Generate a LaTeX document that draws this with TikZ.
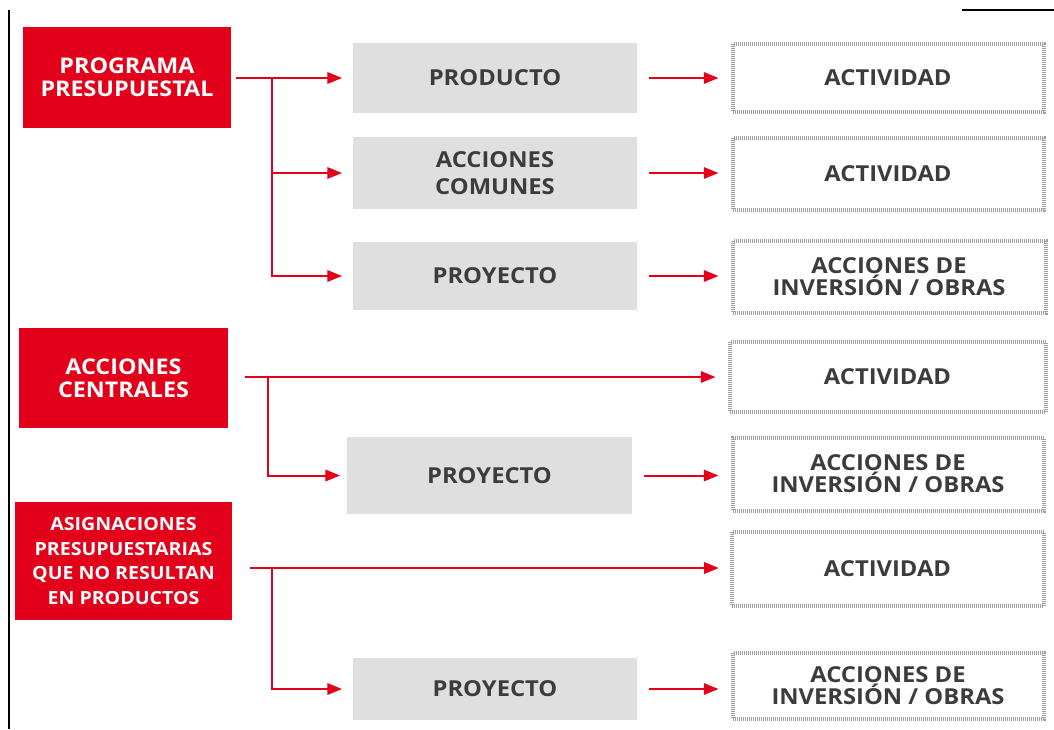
\documentclass[tikz,border=0pt]{standalone}
\usepackage{fontspec}
\setsansfont{Open Sans}[FakeStretch=1.08]
\usepackage{tikz}
\usetikzlibrary{arrows.meta,calc}
\definecolor{rojo}{HTML}{E2001A}
\definecolor{grisbox}{HTML}{DFDFDF}
\definecolor{texto}{HTML}{3C3C3C}
\tikzset{
  box/.style n args={2}{inner sep=0pt, minimum width=#1*0.75pt, minimum height=#2*0.75pt, align=center},
  redbox/.style={fill=rojo, text=white,
    font=\sffamily\bfseries\fontsize{16.2}{17.5}\selectfont},
  graybox/.style={fill=grisbox, text=texto,
    font=\sffamily\bfseries\fontsize{16.5}{20}\selectfont},
  dashbox/.style={draw=gray!75, line width=3pt, dash pattern=on 0.75pt off 0.75pt,
    text=texto, font=\sffamily\bfseries\fontsize{16.5}{16.5}\selectfont},
  link/.style={draw=rojo, line width=1.5pt, -{Triangle[length=11pt,width=8.5pt]}}
}
\begin{document}
\begin{tikzpicture}[x=0.75pt,y=-0.75pt]
\useasboundingbox (0,0) rectangle (1054,729);
\draw[line width=1.5pt] (9,10) -- (9,729);
\draw[line width=1.5pt] (962,10) -- (1054,10);
% bloques rojos
\node[redbox, box={208}{101}] (pp) at (127,77.5) {PROGRAMA\\PRESUPUESTAL};
\node[redbox, box={209}{100}] (ac) at (123.5,378) {ACCIONES\\CENTRALES};
\node[redbox, box={217}{118}, font=\sffamily\bfseries\fontsize{13.6}{18.4}\selectfont]
  (asg) at (123.5,561) {ASIGNACIONES\\PRESUPUESTARIAS\\QUE NO RESULTAN\\EN PRODUCTOS};
% bloques grises
\node[graybox, box={284}{70}] (prod) at (495,78) {PRODUCTO};
\node[graybox, box={284}{72}] (acc) at (495,173) {ACCIONES\\COMUNES};
\node[graybox, box={284}{68}] (proyA) at (495,276) {PROYECTO};
\node[graybox, box={285}{77}] (proyB) at (489.5,475.5) {PROYECTO};
\node[graybox, box={284}{62}] (proyC) at (495,689) {PROYECTO};
% bloques punteados
\node[dashbox, box={311}{68}] (actA) at (888,77.5) {ACTIVIDAD};
\node[dashbox, box={311}{72}] (actB) at (888,173.5) {ACTIVIDAD};
\node[dashbox, box={313}{72}] (invA) at (889,276.5) {ACCIONES DE\\INVERSIÓN / OBRAS};
\node[dashbox, box={316}{70}] (actC) at (887.5,376.5) {ACTIVIDAD};
\node[dashbox, box={311}{73}] (invB) at (888,474) {ACCIONES DE\\INVERSIÓN / OBRAS};
\node[dashbox, box={312}{74}] (actD) at (887.5,568.5) {ACTIVIDAD};
\node[dashbox, box={311}{66}] (invC) at (888,685.5) {ACCIONES DE\\INVERSIÓN / OBRAS};
% conectores
\coordinate (b1) at (272,78);
\coordinate (b2) at (268,377);
\coordinate (b3) at (272,568);
\draw[link, shorten <=3.75pt, shorten >=8pt] (pp.east |- b1) -- (prod.west |- b1);
\draw[link, shorten >=8pt] (b1) |- (acc.west);
\draw[link, shorten >=8pt] (b1) |- (proyA.west);
\draw[link, shorten <=12.75pt, shorten >=9pt] (ac.east |- b2) -- (actC.west |- b2);
\draw[link, shorten >=5pt] (b2) |- (proyB.west);
\draw[link, shorten <=13.5pt, shorten >=8pt] (asg.east |- b3) -- (actD.west |- b3);
\draw[link, shorten >=8pt] (b3) |- (proyC.west);
\foreach \a/\b in {prod/actA,acc/actB,proyA/invA,proyB/invB,proyC/invC}
  \draw[link, shorten <=9pt, shorten >=9pt] (\a.east) -- (\a.east -| \b.west);
\end{tikzpicture}
\end{document}
